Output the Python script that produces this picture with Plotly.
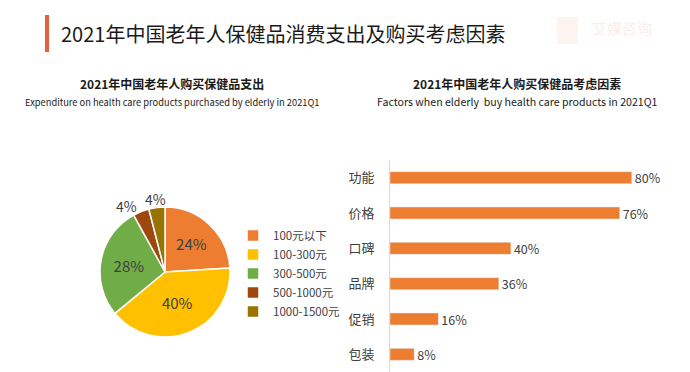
import math
import plotly.graph_objects as go

W, H = 690, 372

# Pie data
pie_labels = ["100元以下", "100-300元", "300-500元", "500-1000元", "1000-1500元"]
pie_values = [24, 40, 28, 4, 4]
pie_colors = ["#ED7D31", "#FFC000", "#70AD47", "#9E480E", "#997300"]

# Bar data
bar_cats = ["功能", "价格", "口碑", "品牌", "促销", "包装"]
bar_values = [80, 76, 40, 36, 16, 8]
bar_color = "#ED7D31"

FONT = "Noto Sans CJK SC"
TXT = "#404040"

def px(x):
    return x / W

def py(y):
    return 1 - y / H

# pie geometry (pixels)
PCX, PCY, PR = 165, 272, 65
SMALL = 5  # slices below this share get their label outside

fig = go.Figure()

fig.add_trace(go.Pie(
    labels=pie_labels, values=pie_values,
    marker=dict(colors=pie_colors, line=dict(color="white", width=1.5)),
    sort=False, direction="clockwise", rotation=0,
    texttemplate="%{value}%",
    textposition=["inside" if v >= SMALL else "none" for v in pie_values],
    insidetextorientation="horizontal",
    textfont=dict(family=FONT, size=15, color=TXT),
    domain=dict(x=[px(PCX - PR), px(PCX + PR)], y=[py(PCY + PR), py(PCY - PR)]),
    hoverinfo="label+percent",
    showlegend=True,
))

# outside labels for small slices, placed from the slice mid-angle
total = sum(pie_values)
cum = 0
for v in pie_values:
    mid = (cum + v / 2) / total * 2 * math.pi
    cum += v
    if v >= SMALL:
        continue
    s, c = math.sin(mid), math.cos(mid)
    centered = abs(s) < 0.3
    rr = PR + (9 if centered else 6)
    lx = PCX + rr * s
    ly = PCY - rr * c
    xa = "center" if centered else ("right" if s < 0 else "left")
    fig.add_annotation(xref="paper", yref="paper", x=px(lx), y=py(ly),
                       text=f"{v}%", showarrow=False,
                       xanchor=xa, yanchor="middle",
                       font=dict(family=FONT, size=14, color=TXT))

fig.add_trace(go.Bar(
    y=bar_cats, x=bar_values, orientation="h",
    marker=dict(color=bar_color),
    width=0.34,
    text=[f"{v}%" for v in bar_values], textposition="outside",
    constraintext="none",
    textfont=dict(family=FONT, size=12.5, color=TXT),
    cliponaxis=False,
    showlegend=False,
))

fig.update_layout(
    width=W, height=H,
    margin=dict(l=0, r=0, t=0, b=0),
    paper_bgcolor="white", plot_bgcolor="white",
    font=dict(family=FONT, color=TXT),
    xaxis=dict(domain=[px(390), px(662)], range=[0, 90], visible=False),
    yaxis=dict(domain=[0, py(160)], autorange="reversed",
               showline=True, linecolor="#d9d9d9", linewidth=1,
               ticks="", ticklabelstandoff=12,
               tickfont=dict(family=FONT, size=13, color=TXT),
               showgrid=False, zeroline=False),
    legend=dict(x=px(233), y=py(221), xanchor="left", yanchor="top",
                font=dict(family=FONT, size=11.5, color=TXT),
                itemwidth=30, tracegroupgap=0, bgcolor="rgba(0,0,0,0)"),
    showlegend=True,
)

# Title accent bar
fig.add_shape(type="rect", xref="paper", yref="paper",
              x0=px(45), x1=px(49), y0=py(52), y1=py(15),
              fillcolor="#E8603C", line=dict(width=0))
# faint watermark icon
fig.add_shape(type="rect", xref="paper", yref="paper",
              x0=px(557), x1=px(578), y0=py(44), y1=py(17),
              fillcolor="#FDF3EF", line=dict(width=0))

annos = [
    dict(x=px(59), y=py(33), text="2021年中国老年人保健品消费支出及购买考虑因素",
         xanchor="left", font=dict(size=20, color="#1a1a1a")),
    dict(x=px(172), y=py(83), text="<b>2021年中国老年人购买保健品支出</b>",
         xanchor="center", font=dict(size=12, color="#1a1a1a")),
    dict(x=px(172), y=py(102), text="Expenditure on health care products purchased by elderly in 2021Q1",
         xanchor="center", font=dict(size=9.3, color="#1a1a1a")),
    dict(x=px(517), y=py(83), text="<b>2021年中国老年人购买保健品考虑因素</b>",
         xanchor="center", font=dict(size=12, color="#1a1a1a")),
    dict(x=px(517), y=py(102), text="Factors when elderly  buy health care products in 2021Q1",
         xanchor="center", font=dict(size=10.6, color="#1a1a1a")),
    dict(x=px(622), y=py(27), text="艾媒咨询",
         xanchor="center", font=dict(size=15, color="#FBEDE8")),
]
for a in annos:
    fig.add_annotation(xref="paper", yref="paper", yanchor="middle",
                       showarrow=False, **a)

fig.write_html("out.html", config={"displayModeBar": False},
               post_script="document.body.style.margin='0';")
